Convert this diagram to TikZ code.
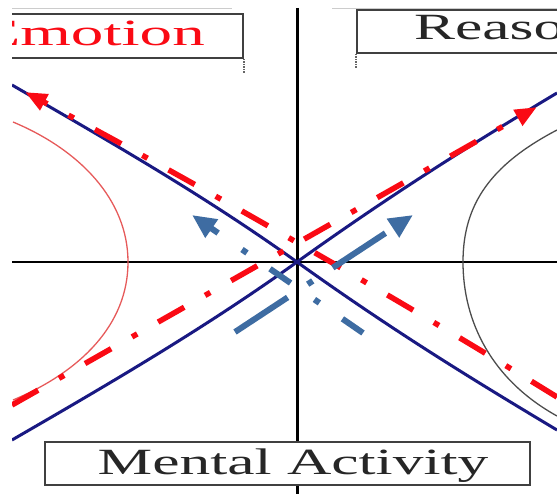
\documentclass[tikz,border=0pt]{standalone}
\usepackage{fontspec}
\setmainfont{Liberation Serif}
\usepackage{graphicx}
\usetikzlibrary{arrows.meta}
\definecolor{navyc}{RGB}{25,25,130}
\definecolor{steelc}{RGB}{62,108,162}
\definecolor{redc}{RGB}{250,10,20}
\definecolor{pinkc}{RGB}{230,90,90}
\begin{document}
\begin{tikzpicture}[x=1pt,y=-1pt,
  axisline/.style={black,line width=2.2pt},
  thinhyp/.style={line width=1.3pt},
  hyp/.style={navyc,line width=3pt},
  redarrow/.style={redc,line width=5.5pt,dash pattern=on 30pt off 24pt on 6pt off 24pt,
    -{Triangle[length=22pt,width=17pt]}},
  bluearrow/.style={steelc,line width=6pt,-{Triangle[length=24pt,width=21pt]}},
  boxstyle/.style={draw=black!75,line width=1.8pt,fill=white,inner sep=0pt},
  txt/.style={inner sep=0pt,font=\fontsize{37}{40}\selectfont}]
\useasboundingbox (0,0) rectangle (557,494);
\begin{scope}
\clip (12,0) rectangle (557,494);
% faint top lines
\draw[black!20,line width=0.8pt] (12,8) -- (232,8);
\draw[black!20,line width=0.8pt] (332,8) -- (557,8);
% axes
\coordinate (ytop) at (297,8);
\coordinate (ybot) at (297,494);
\coordinate (xl) at (12,262);
\coordinate (xr) at (557,262);
\draw[axisline,line width=3pt] (ytop) -- (ybot);
\draw[axisline] (xl) -- (xr);
% thin hyperbola branches
\draw[thinhyp,pinkc] (13,122) .. controls (80,150) and (128,200) .. (128,262)
  .. controls (128,325) and (80,372) .. (13,400);
\draw[thinhyp,black!70] (557,130) .. controls (490,165) and (463,205) .. (463,262)
  .. controls (463,322) and (492,380) .. (557,416);
% navy curves
\coordinate (c) at (297,262);
\draw[hyp] (12,85) .. controls (107,140) and (202,194) .. (c)
  .. controls (392,330) and (470,378) .. (557,430);
\draw[hyp] (12,440) .. controls (107,385) and (202,330) .. (c)
  .. controls (392,194) and (470,145) .. (557,93);
% red dash-dot arrows
\coordinate (r1s) at (557,397);
\coordinate (r1e) at (25,92);
\coordinate (r2s) at (12,405);
\coordinate (r2e) at (537,107);
\draw[redarrow] (r1s) .. controls (400,300) and (200,185) .. (r1e);
\draw[redarrow] (r2s) -- (r2e);
% blue dash-dot arrows
\coordinate (b1s) at (363,333);
\coordinate (b1e) at (192,215);
\coordinate (b2s) at (235,332);
\coordinate (b2e) at (413,215);
\draw[bluearrow,dash pattern=on 25pt off 28pt on 6pt off 29pt] (b1s) -- (b1e);
\draw[bluearrow,dash pattern=on 63pt off 24pt on 6pt off 24pt] (b2s) -- (b2e);
% boxes
\node[boxstyle,minimum width=253pt,minimum height=44pt] (emobox) at (116.5,36) {};
\node[boxstyle,minimum width=243pt,minimum height=43pt] (reabox) at (478.5,31.5) {};
\node[boxstyle,minimum width=485pt,minimum height=43pt] (mabox) at (287.5,463.5) {};
\draw[black!60,line width=1.5pt,densely dotted] (emobox.south east) -- ++(0,15);
\draw[black!60,line width=1.5pt,densely dotted] (reabox.south west) -- ++(0,15);
% texts
\node[txt,text=redc,anchor=base east] (emo) at (205,46) {\scalebox{1.76}[1]{Emotion}};
\node[txt,text=black!85,anchor=base west] (rea) at (414,40) {\scalebox{1.66}[1]{Reasoning}};
\node[txt,text=black!85,anchor=base] (ma) at (293,474) {\scalebox{1.66}[1]{Mental Activity}};
\end{scope}
\end{tikzpicture}
\end{document}
